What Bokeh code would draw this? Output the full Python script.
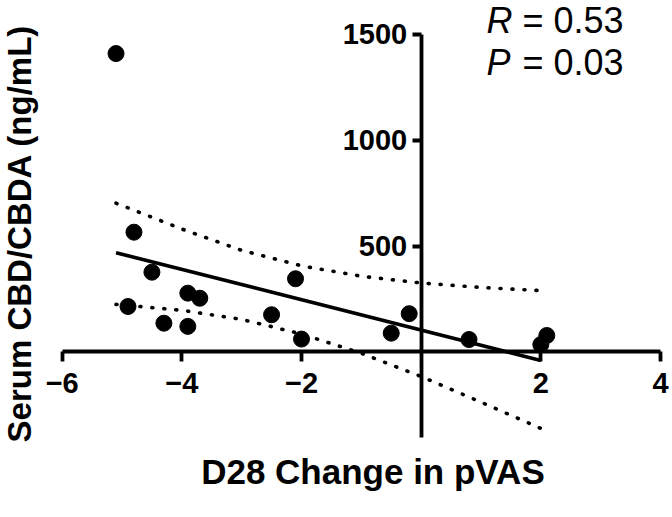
import math
from bokeh.plotting import figure
from bokeh.models import Range1d, LinearAxis, FixedTicker, Label
from bokeh.embed import file_html
from bokeh.resources import INLINE

# Data
pvas_change = [-5.1, -4.8, -4.5, -4.9, -3.9, -3.7, -4.3, -3.9, -2.1, -2.5, -2.0, -0.5, -0.2, 0.8, 2.1, 2.0]
serum_cbd = [1410, 566, 377, 215, 278, 254, 136, 121, 346, 176, 61, 89, 181, 59, 78, 35]

fit_x = [-5.1, 2.0]
fit_y = [469, -40]

band_x = [-5.1, -4, -3, -2, -1, 0, 1, 2]
band_upper = [703, 581, 480, 407, 358, 326, 305, 290]
band_lower = [225, 197, 154, 85, -6, -116, -237, -361]

x_ticks = [-6, -4, -2, 2, 4]
y_ticks = [500, 1000, 1500]

x_title = "D28 Change in pVAS"
y_title = "Serum CBD/CBDA (ng/mL)"
r_text, r_value = "R", "= 0.53"
p_text, p_value = "P", "= 0.03"

FONT = "Liberation Sans"

p = figure(width=672, height=517, x_range=Range1d(-7.031, 4.201), y_range=Range1d(-781.9, 1660.6),
           output_backend="svg", toolbar_location=None,
           x_axis_type=None, y_axis_type=None,
           min_border_left=0, min_border_right=0, min_border_top=0, min_border_bottom=0)
p.outline_line_color = None
p.background_fill_color = "white"
p.border_fill_color = "white"

def style_axis(ax):
    ax.axis_line_width = 3.8
    ax.axis_line_color = "black"
    ax.major_tick_line_width = 3.8
    ax.major_tick_line_color = "black"
    ax.major_tick_in = 0
    ax.major_tick_out = 10
    ax.minor_tick_line_color = None
    ax.major_label_text_font = FONT
    ax.major_label_text_font_style = "bold"
    ax.major_label_text_font_size = "29px"
    ax.major_label_text_color = "black"

xaxis = LinearAxis(fixed_location=0, ticker=FixedTicker(ticks=x_ticks), bounds=(-6, 4))
style_axis(xaxis)
xaxis.major_label_standoff = 11
p.add_layout(xaxis, "below")

yaxis = LinearAxis(fixed_location=0, ticker=FixedTicker(ticks=y_ticks), bounds=(-405, 1500))
style_axis(yaxis)
yaxis.major_tick_out = 9
yaxis.major_label_standoff = 5
p.add_layout(yaxis, "left")

p.line(band_x, band_upper, line_color="black", line_width=3.6, line_dash="1 11", line_cap="round")
p.line(band_x, band_lower, line_color="black", line_width=3.6, line_dash="1 11", line_cap="round")
p.line(fit_x, fit_y, line_color="black", line_width=3.6)
p.scatter(pvas_change, serum_cbd, size=16, color="black")

# axis titles
p.add_layout(Label(x=-0.806, y=-564.6, text=x_title, text_font=FONT, text_font_style="bold",
                   text_font_size="35px", text_color="black", text_align="center",
                   text_baseline="alphabetic"))
p.add_layout(Label(x=-6.7137, y=560.0, text=y_title, text_font=FONT, text_font_style="bold",
                   text_font_size="33px", text_color="black", text_align="center",
                   text_baseline="alphabetic", angle=math.pi / 2))

# statistics
for (t, v, yv) in [(r_text, r_value, 1566.0), (p_text, p_value, 1367.5)]:
    p.add_layout(Label(x=1.0914, y=yv, text=t, text_font=FONT, text_font_style="italic",
                       text_font_size="36px", text_color="black", text_baseline="alphabetic"))
    p.add_layout(Label(x=1.0914, y=yv, x_offset=36, text=v, text_font=FONT,
                       text_font_size="36px", text_color="black", text_baseline="alphabetic"))

open("out.html", "w").write(file_html(p, INLINE))
